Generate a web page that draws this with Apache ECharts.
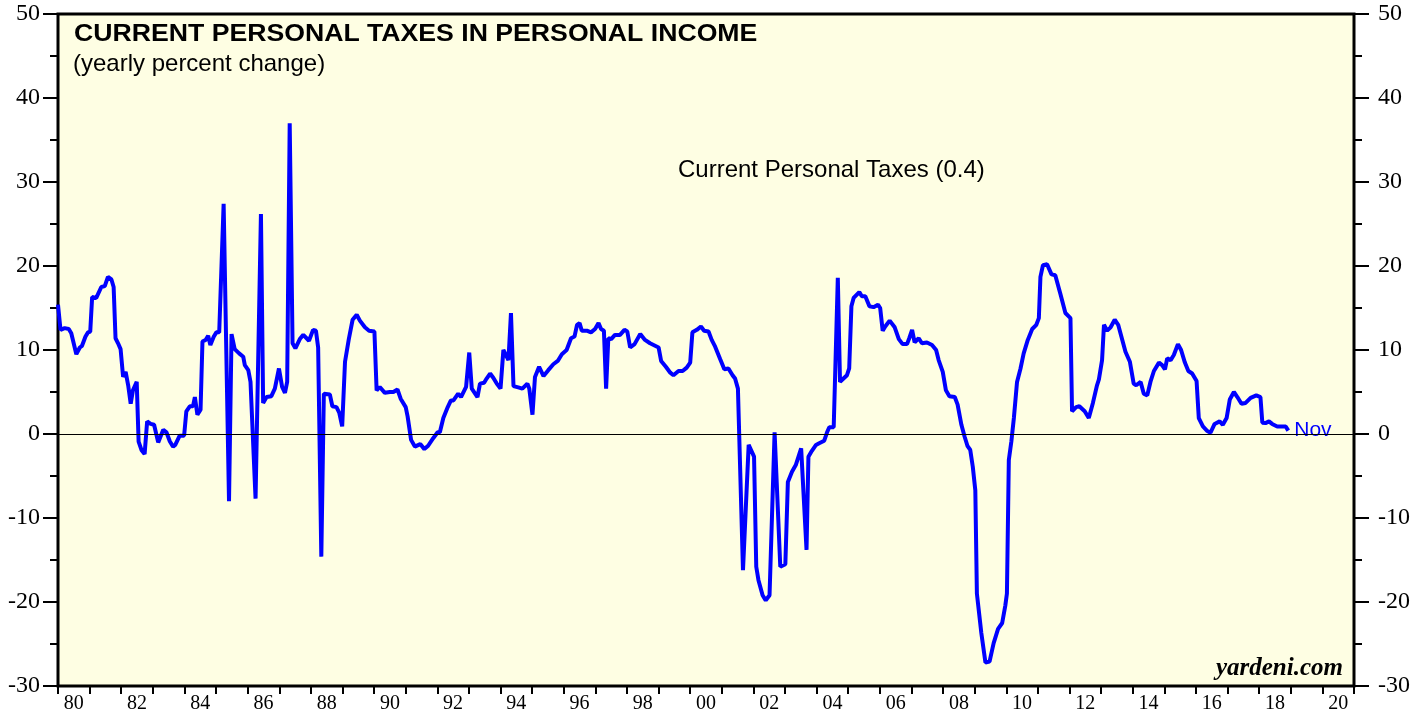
<!DOCTYPE html>
<html>
<head>
<meta charset="utf-8">
<script src="https://cdn.jsdelivr.net/npm/echarts@6/dist/echarts.min.js"></script>
<style>
  html, body { margin: 0; padding: 0; background: #fff; }
  #chart { width: 1421px; height: 719px; }
</style>
</head>
<body>
<div id="chart"></div>
<script>
// year labels on the bottom axis (one slot per year, label every other)
const yearSlots = [];
for (let y = 1980; y <= 2020; y++) yearSlots.push(String(y));

// dates (decimal years) and yearly % change
const dates = [
  1980.00,1980.08,1980.21,1980.34,1980.42,1980.58,1980.69,1980.76,1980.87,1980.95,
  1981.02,1981.08,1981.21,1981.37,1981.48,1981.58,1981.69,1981.76,1981.82,1981.90,1981.98,
  1982.06,1982.14,1982.22,1982.30,1982.37,1982.49,1982.55,1982.64,1982.74,1982.82,1982.93,
  1983.04,1983.17,1983.33,1983.43,1983.54,1983.64,1983.71,1983.85,1983.99,
  1984.06,1984.17,1984.27,1984.33,1984.41,1984.51,1984.57,1984.67,1984.75,1984.82,1984.93,
  1985.01,1985.10,1985.24,1985.41,1985.49,1985.59,1985.73,1985.86,1985.91,
  1986.02,1986.09,1986.25,1986.42,1986.49,1986.60,1986.75,1986.86,1986.99,
  1987.09,1987.18,1987.25,1987.33,1987.42,1987.51,1987.65,1987.76,1987.94,
  1988.07,1988.16,1988.23,1988.33,1988.41,1988.60,1988.68,1988.81,1988.90,1988.99,
  1989.08,1989.20,1989.32,1989.45,1989.55,1989.71,1989.84,
  1990.01,1990.08,1990.18,1990.34,1990.50,1990.61,1990.74,1990.84,
  1991.00,1991.06,1991.17,1991.29,1991.46,1991.59,1991.71,1991.87,
  1992.01,1992.08,1992.19,1992.33,1992.43,1992.51,1992.66,1992.75,1992.91,
  1993.01,1993.09,1993.27,1993.35,1993.48,1993.56,1993.67,1993.77,1993.88,
  1994.00,1994.09,1994.25,1994.33,1994.41,1994.56,1994.69,1994.85,1994.91,
  1995.01,1995.09,1995.22,1995.36,1995.51,1995.67,1995.81,1995.94,
  1996.09,1996.23,1996.34,1996.42,1996.50,1996.57,1996.73,1996.86,1996.99,
  1997.10,1997.18,1997.27,1997.34,1997.41,1997.50,1997.62,1997.78,1997.92,
  1998.01,1998.10,1998.24,1998.42,1998.57,1998.73,
  1999.00,1999.08,1999.23,1999.37,1999.47,1999.63,1999.76,1999.89,
  2000.00,2000.07,2000.21,2000.34,2000.44,2000.58,2000.68,2000.79,2000.95,
  2001.08,2001.21,2001.34,2001.42,2001.51,2001.67,2001.85,
  2002.02,2002.09,2002.16,2002.29,2002.39,2002.51,2002.67,2002.85,
  2003.01,2003.09,2003.22,2003.34,2003.51,2003.68,2003.74,2003.85,2003.98,
  2004.08,2004.24,2004.33,2004.40,2004.54,2004.67,2004.74,2004.85,2004.96,
  2005.03,2005.10,2005.17,2005.35,2005.43,2005.54,2005.67,2005.80,2005.94,
  2006.01,2006.09,2006.17,2006.31,2006.47,2006.60,2006.72,2006.86,2006.93,
  2007.02,2007.10,2007.23,2007.33,2007.49,2007.65,2007.78,2007.86,2007.99,
  2008.09,2008.20,2008.37,2008.46,2008.58,2008.68,2008.77,2008.86,2008.94,
  2009.02,2009.07,2009.21,2009.34,2009.47,2009.60,2009.74,2009.87,2009.97,
  2010.02,2010.08,2010.16,2010.24,2010.34,2010.45,2010.55,2010.68,2010.82,2010.95,
  2011.03,2011.08,2011.16,2011.29,2011.43,2011.55,2011.71,2011.87,
  2012.03,2012.08,2012.21,2012.31,2012.48,2012.61,2012.74,2012.87,2012.93,
  2013.03,2013.09,2013.19,2013.30,2013.43,2013.54,2013.64,2013.77,2013.91,
  2014.03,2014.11,2014.25,2014.35,2014.46,2014.56,2014.67,2014.83,2014.93,
  2015.02,2015.09,2015.20,2015.30,2015.43,2015.53,2015.65,2015.76,2015.88,
  2016.02,2016.09,2016.22,2016.36,2016.46,2016.59,2016.75,2016.85,2016.97,
  2017.07,2017.20,2017.31,2017.44,2017.57,2017.73,2017.91,
  2018.04,2018.10,2018.20,2018.31,2018.41,2018.57,2018.75,2018.84,2018.92
];
const taxes = [
  15.4,12.4,12.6,12.5,12.0,9.5,10.3,10.5,11.6,12.1,
  12.2,16.3,16.2,17.5,17.6,18.7,18.4,17.5,11.4,10.8,10.1,
  6.8,7.4,5.8,3.6,5.2,6.2,-0.9,-1.9,-2.4,1.5,1.2,
  1.1,-1.0,0.5,0.2,-0.9,-1.5,-1.3,-0.2,-0.2,
  2.7,3.3,3.3,4.4,2.3,2.9,11.0,11.2,11.7,10.6,11.6,
  12.1,12.1,27.4,-8.0,11.9,10.1,9.6,9.2,8.2,
  7.6,6.2,-7.7,26.2,3.7,4.4,4.5,5.4,7.8,
  5.6,4.9,6.2,37.0,10.8,10.2,11.3,11.8,11.1,
  12.4,12.3,10.3,-14.6,4.8,4.7,3.3,3.2,2.5,0.9,
  8.6,11.3,13.6,14.2,13.5,12.7,12.3,
  12.2,5.2,5.6,4.9,5.0,5.0,5.3,4.2,
  3.2,2.1,-0.7,-1.5,-1.2,-1.8,-1.4,-0.5,
  0.2,0.2,1.9,3.2,4.0,4.0,4.8,4.4,5.6,
  9.7,5.4,4.4,6.0,6.1,6.6,7.2,6.7,6.0,
  5.4,10.0,8.8,14.4,5.7,5.55,5.4,6.0,5.4,
  2.3,6.8,8.0,6.9,7.6,8.3,8.7,9.5,
  10.0,11.4,11.6,13.0,13.2,12.3,12.3,12.1,12.5,
  13.2,12.5,12.3,5.4,11.4,11.3,11.8,11.8,12.4,
  12.2,10.3,10.7,11.9,11.2,10.8,
  10.3,8.7,8.0,7.3,7.0,7.5,7.5,7.9,
  8.5,12.1,12.4,12.8,12.3,12.2,11.2,10.4,8.9,
  7.7,7.8,7.0,6.6,5.4,-16.2,-1.3,
  -2.7,-15.8,-17.4,-19.2,-19.8,-19.2,0.2,-15.8,
  -15.5,-5.7,-4.5,-3.7,-1.7,-13.8,-2.7,-2.0,-1.3,
  -1.1,-0.8,0.2,0.8,0.8,18.6,6.2,6.6,7.0,
  7.8,15.2,16.2,16.9,16.4,16.4,15.2,15.1,15.4,
  15.0,12.3,12.8,13.5,12.7,11.3,10.7,10.7,11.4,
  12.4,10.9,11.4,10.8,10.9,10.6,10.0,8.8,7.4,
  5.2,4.5,4.4,3.5,1.1,-0.3,-1.4,-1.9,-3.9,
  -6.7,-19.0,-23.7,-27.2,-27.1,-24.9,-23.2,-22.5,-20.4,
  -19.0,-3.1,-0.9,1.9,6.2,7.8,9.6,11.2,12.5,13.0,
  13.8,18.7,20.1,20.2,19.0,18.9,16.7,14.4,
  13.8,2.7,3.2,3.3,2.7,1.9,3.7,5.8,6.5,
  8.8,13.0,12.3,12.7,13.6,13.0,11.6,9.8,8.6,
  6.0,5.8,6.2,4.8,4.6,6.2,7.5,8.5,8.2,
  7.7,9.0,8.8,9.4,10.7,10.0,8.5,7.5,7.2,
  6.3,1.9,0.9,0.35,0.15,1.2,1.5,1.1,1.9,
  4.1,5.0,4.4,3.6,3.7,4.3,4.6,
  4.4,1.35,1.3,1.5,1.2,0.9,0.9,0.9,0.4
];

const yMin = -30, yMax = 50, yStep = 10;
const xStart = 1980, xEnd = 2021;

const chartObj = echarts.init(document.getElementById('chart'));

const yAxisBase = {
  type: 'value',
  min: yMin,
  max: yMax,
  interval: yStep,
  axisLine: { show: true, lineStyle: { color: '#000', width: 2 } },
  axisTick: { show: true, inside: false, length: 15, lineStyle: { color: '#000', width: 2 } },
  minorTick: { show: true, splitNumber: 2, length: 8, lineStyle: { color: '#000', width: 2 } },
  splitLine: { show: false },
  axisLabel: { color: '#000', fontFamily: 'Liberation Serif', fontSize: 24 }
};

const option = {
  animation: false,
  backgroundColor: '#fff',
  grid: {
    left: 58, right: 67, top: 14, bottom: 33,
    show: true,
    backgroundColor: '#FEFEE3',
    borderColor: '#000',
    borderWidth: 3
  },
  legend: {
    left: 668, top: 153,
    icon: 'none',
    itemWidth: 0, itemHeight: 0,
    selectedMode: false,
    textStyle: { color: '#000', fontFamily: 'Liberation Sans', fontSize: 24 },
    data: ['Current Personal Taxes (0.4)']
  },
  graphic: [
    {
      type: 'text', left: 74, top: 22, scaleX: 1.11,
      style: { text: 'CURRENT PERSONAL TAXES IN PERSONAL INCOME', fill: '#000',
        font: 'bold 24px "Liberation Sans"' }
    },
    {
      type: 'text', left: 73, top: 52,
      style: { text: '(yearly percent change)', fill: '#000',
        font: '24px "Liberation Sans"' }
    },
    {
      type: 'text', right: 78, top: 656,
      style: { text: 'yardeni.com', fill: '#000',
        font: 'italic bold 25px "Liberation Serif"' }
    }
  ],
  xAxis: [
    {
      type: 'category',
      data: yearSlots,
      boundaryGap: true,
      position: 'bottom',
      axisLine: { show: true, onZero: false, lineStyle: { color: '#000', width: 2 } },
      axisTick: { show: true, interval: 0, length: 8, lineStyle: { color: '#000', width: 2 } },
      axisLabel: {
        interval: 1, margin: 8, color: '#000',
        fontFamily: 'Liberation Serif', fontSize: 20,
        formatter: v => v.slice(2)
      },
      splitLine: { show: false }
    },
    {
      type: 'value',
      min: xStart, max: xEnd,
      show: false
    }
  ],
  yAxis: [
    Object.assign({}, yAxisBase, { position: 'left', axisLabel: Object.assign({}, yAxisBase.axisLabel, { margin: 18 }) }),
    Object.assign({}, yAxisBase, { position: 'right', axisLabel: Object.assign({}, yAxisBase.axisLabel, { margin: 24 }) })
  ],
  series: [
    {
      name: 'Current Personal Taxes (0.4)',
      type: 'line',
      xAxisIndex: 1,
      yAxisIndex: 0,
      showSymbol: false,
      symbol: 'none',
      data: dates.map((d, i) => [d, taxes[i]]),
      lineStyle: { color: '#0000FF', width: 4 },
      itemStyle: { color: '#0000FF' },
      endLabel: {
        show: true, formatter: 'Nov', distance: 6,
        color: '#0000FF', fontFamily: 'Liberation Sans', fontSize: 21
      },
      markLine: {
        silent: true,
        symbol: 'none',
        label: { show: false },
        lineStyle: { color: '#000', width: 1, type: 'solid' },
        data: [{ yAxis: 0 }]
      },
      z: 3
    }
  ]
};

chartObj.setOption(option);
</script>
</body>
</html>
